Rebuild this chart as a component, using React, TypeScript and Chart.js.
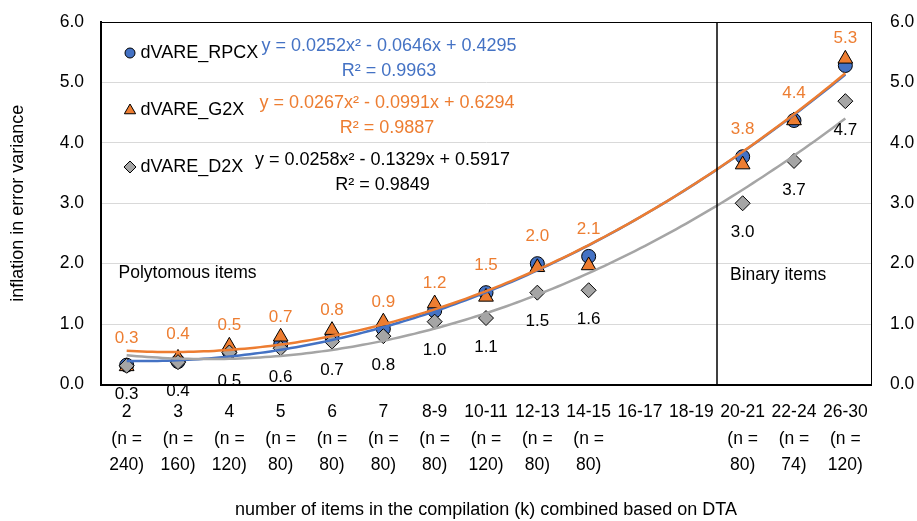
import React, { useEffect, useRef } from 'react';
import { Chart, registerables } from 'chart.js';

Chart.register(...registerables);

const categories = ['2', '3', '4', '5', '6', '7', '8-9', '10-11', '12-13', '14-15', '16-17', '18-19', '20-21', '22-24', '26-30'];
const sampleSizes = ['240', '160', '120', '80', '80', '80', '80', '120', '80', '80', '', '', '80', '74', '120'];

const rpcx = [0.32, 0.38, 0.54, 0.66, 0.78, 0.92, 1.22, 1.52, 2.0, 2.12, null, null, 3.77, 4.37, 5.28];
const g2x = [0.3, 0.44, 0.64, 0.79, 0.9, 1.04, 1.34, 1.45, 1.94, 1.97, null, null, 3.64, 4.37, 5.39];
const d2x = [0.31, 0.37, 0.53, 0.6, 0.71, 0.8, 1.04, 1.1, 1.52, 1.56, null, null, 3.0, 3.7, 4.69];

const seriesNames = ['dVARE_RPCX', 'dVARE_G2X', 'dVARE_D2X'];

// polynomial trendline coefficients as printed on the chart: [a, b, c] for y = a x^2 + b x + c
const trendRPCX = [0.0252, -0.0646, 0.4295];
const trendG2X = [0.0267, -0.0991, 0.6294];
const trendD2X = [0.0258, -0.1329, 0.5917];

const eqRPCX = ['y = 0.0252x\u00B2 - 0.0646x + 0.4295', 'R\u00B2 = 0.9963'];
const eqG2X = ['y = 0.0267x\u00B2 - 0.0991x + 0.6294', 'R\u00B2 = 0.9887'];
const eqD2X = ['y = 0.0258x\u00B2 - 0.1329x + 0.5917', 'R\u00B2 = 0.9849'];

const regionLabels = ['Polytomous items', 'Binary items'];
const yTitle = 'inflation in error variance';
const xTitle = 'number of items in the compilation (k) combined based on DTA';

const BLUE = '#4472C4';
const ORANGE = '#ED7D31';
const GRAY = '#A5A5A5';
const FONT = '"Liberation Sans", Arial, sans-serif';

const trendPoints = (coef: number[]) => {
  const pts: { x: number; y: number }[] = [];
  for (let k = 0; k <= 140; k++) {
    const x = 1 + k * 0.1;
    pts.push({ x, y: coef[0] * x * x + coef[1] * x + coef[2] });
  }
  return pts;
};

function drawMarker(ctx: CanvasRenderingContext2D, style: string, x: number, y: number, r: number, fill: string) {
  ctx.beginPath();
  if (style === 'circle') {
    ctx.arc(x, y, r, 0, Math.PI * 2);
  } else if (style === 'triangle') {
    ctx.moveTo(x, y - r);
    ctx.lineTo(x + r * Math.sin((2 * Math.PI) / 3), y - r * Math.cos((2 * Math.PI) / 3));
    ctx.lineTo(x - r * Math.sin((2 * Math.PI) / 3), y - r * Math.cos((2 * Math.PI) / 3));
    ctx.closePath();
  } else {
    ctx.moveTo(x, y - r);
    ctx.lineTo(x + r, y);
    ctx.lineTo(x, y + r);
    ctx.lineTo(x - r, y);
    ctx.closePath();
  }
  ctx.fillStyle = fill;
  ctx.fill();
  ctx.strokeStyle = '#000';
  ctx.lineWidth = 1;
  ctx.stroke();
}

const overlayPlugin = {
  id: 'overlay',
  afterDatasetsDraw(chart: any) {
    const { ctx, chartArea: a, scales } = chart;
    const xl = scales.xl;
    const y = scales.y;
    ctx.save();

    // separator between polytomous and binary items
    const sx = xl.getPixelForValue(12.5);
    ctx.strokeStyle = '#000';
    ctx.lineWidth = 1.5;
    ctx.beginPath();
    ctx.moveTo(sx, a.top);
    ctx.lineTo(sx, a.bottom + 1);
    ctx.stroke();

    // top border
    ctx.lineWidth = 1;
    ctx.beginPath();
    ctx.moveTo(a.left, a.top + 0.5);
    ctx.lineTo(a.right, a.top + 0.5);
    ctx.stroke();

    // data labels
    ctx.font = `17px ${FONT}`;
    ctx.textAlign = 'center';
    ctx.textBaseline = 'middle';
    const m0 = chart.getDatasetMeta(0);
    rpcx.forEach((v, i) => {
      if (v == null) return;
      const p = m0.data[i];
      ctx.fillStyle = ORANGE;
      ctx.fillText(v.toFixed(1), p.x, p.y - 27);
    });
    const m2 = chart.getDatasetMeta(2);
    d2x.forEach((v, i) => {
      if (v == null) return;
      const p = m2.data[i];
      ctx.fillStyle = '#000';
      ctx.fillText(v.toFixed(1), p.x, p.y + 29);
    });

    // region labels
    ctx.font = `17.5px ${FONT}`;
    ctx.textAlign = 'left';
    ctx.fillStyle = '#000';
    ctx.fillText(regionLabels[0], a.left + 17.5, y.getPixelForValue(1.84));
    ctx.fillText(regionLabels[1], sx + 13, y.getPixelForValue(1.81));

    // legend
    const rows = [
      { style: 'circle', r: 5, fill: BLUE, eq: eqRPCX, color: BLUE, eqX: 389 },
      { style: 'triangle', r: 6.5, fill: ORANGE, eq: eqG2X, color: ORANGE, eqX: 387 },
      { style: 'diamond', r: 6, fill: GRAY, eq: eqD2X, color: '#000', eqX: 382.5 },
    ];
    const rowY = [a.top + 31, a.top + 88.5, a.top + 145];
    rows.forEach((row, i) => {
      const ry = rowY[i];
      drawMarker(ctx, row.style, a.left + 29, ry, row.r, row.fill);
      ctx.font = `18px ${FONT}`;
      ctx.textAlign = 'left';
      ctx.fillStyle = '#000';
      ctx.fillText(seriesNames[i], a.left + 39.5, ry);
      ctx.textAlign = 'center';
      ctx.fillStyle = row.color;
      ctx.fillText(row.eq[0], row.eqX, ry - 7);
      ctx.fillText(row.eq[1], row.eqX, ry + 18);
    });

    ctx.restore();
  },
};

export default function App() {
  const ref = useRef<HTMLCanvasElement | null>(null);

  useEffect(() => {
    if (!ref.current) return;
    Chart.defaults.font.family = FONT;
    Chart.defaults.color = '#000';

    const labels = categories.map((c, i) => (sampleSizes[i] ? [c, '(n =', sampleSizes[i] + ')'] : [c]));

    const markerBase = {
      type: 'line' as const,
      showLine: false,
      xAxisID: 'x',
      yAxisID: 'y',
      borderColor: '#000',
      pointBorderColor: '#000',
      pointBorderWidth: 1,
      spanGaps: false,
    };
    const trendBase = {
      type: 'line' as const,
      xAxisID: 'xl',
      yAxisID: 'y',
      pointRadius: 0,
      borderWidth: 2.5,
      fill: false,
      tension: 0,
    };

    const fixVertical = (w: number) => (s: any) => {
      s.width = w;
      s.paddingTop = 0;
      s.paddingBottom = 0;
    };

    const chart = new Chart(ref.current, {
      type: 'line',
      data: {
        labels,
        datasets: [
          { ...markerBase, label: seriesNames[0], data: rpcx, pointStyle: 'circle', pointRadius: 7, pointBackgroundColor: BLUE, backgroundColor: BLUE, order: 6 },
          { ...markerBase, label: seriesNames[1], data: g2x, pointStyle: 'triangle', pointRadius: 8.5, pointBackgroundColor: ORANGE, backgroundColor: ORANGE, order: 5 },
          { ...markerBase, label: seriesNames[2], data: d2x, pointStyle: 'rectRot', pointRadius: 7.5, pointBackgroundColor: GRAY, backgroundColor: GRAY, order: 4 },
          { ...trendBase, label: 'trend RPCX', data: trendPoints(trendRPCX), borderColor: BLUE, order: 3 },
          { ...trendBase, label: 'trend G2X', data: trendPoints(trendG2X), borderColor: ORANGE, order: 2 },
          { ...trendBase, label: 'trend D2X', data: trendPoints(trendD2X), borderColor: GRAY, order: 1 },
        ] as any,
      },
      options: {
        animation: false,
        responsive: true,
        maintainAspectRatio: false,
        layout: { padding: { top: 22, right: 0, bottom: 0, left: 0 } },
        plugins: {
          legend: { display: false },
          tooltip: { enabled: false },
        },
        scales: {
          x: {
            type: 'category',
            offset: true,
            grid: { display: false, drawTicks: false },
            border: { display: true, color: '#000', width: 2 },
            ticks: {
              autoSkip: false,
              maxRotation: 0,
              minRotation: 0,
              padding: 15,
              color: '#000',
              font: { size: 17.5, lineHeight: 1.5 },
            },
            title: {
              display: true,
              text: xTitle,
              color: '#000',
              font: { size: 18 },
              padding: { top: 0, bottom: 0 },
            },
            afterFit: (s: any) => {
              s.height = 136.5;
              s.paddingLeft = 0;
              s.paddingRight = 0;
            },
          },
          xl: {
            type: 'linear',
            display: false,
            min: 0.5,
            max: 15.5,
          },
          y: {
            position: 'left',
            min: 0,
            max: 6,
            ticks: {
              stepSize: 1,
              padding: 17,
              color: '#000',
              font: { size: 17.5 },
              callback: (v: any) => Number(v).toFixed(1),
            },
            grid: { color: '#D9D9D9', lineWidth: 1, drawTicks: false },
            border: { display: true, color: '#000', width: 2 },
            title: {
              display: true,
              text: yTitle,
              color: '#000',
              font: { size: 18 },
              padding: { top: 7, bottom: 0 },
            },
            afterFit: fixVertical(101),
          },
          y2: {
            position: 'right',
            min: 0,
            max: 6,
            ticks: {
              stepSize: 1,
              padding: 19,
              color: '#000',
              font: { size: 17.5 },
              callback: (v: any) => Number(v).toFixed(1),
            },
            grid: { display: false, drawTicks: false },
            border: { display: true, color: '#000', width: 1 },
            afterFit: fixVertical(46),
          },
        },
      } as any,
      plugins: [overlayPlugin],
    });

    return () => chart.destroy();
  }, []);

  return (
    <div style={{ position: 'fixed', left: 0, top: 0, width: 917, height: 521, background: '#fff' }}>
      <canvas ref={ref} />
    </div>
  );
}
